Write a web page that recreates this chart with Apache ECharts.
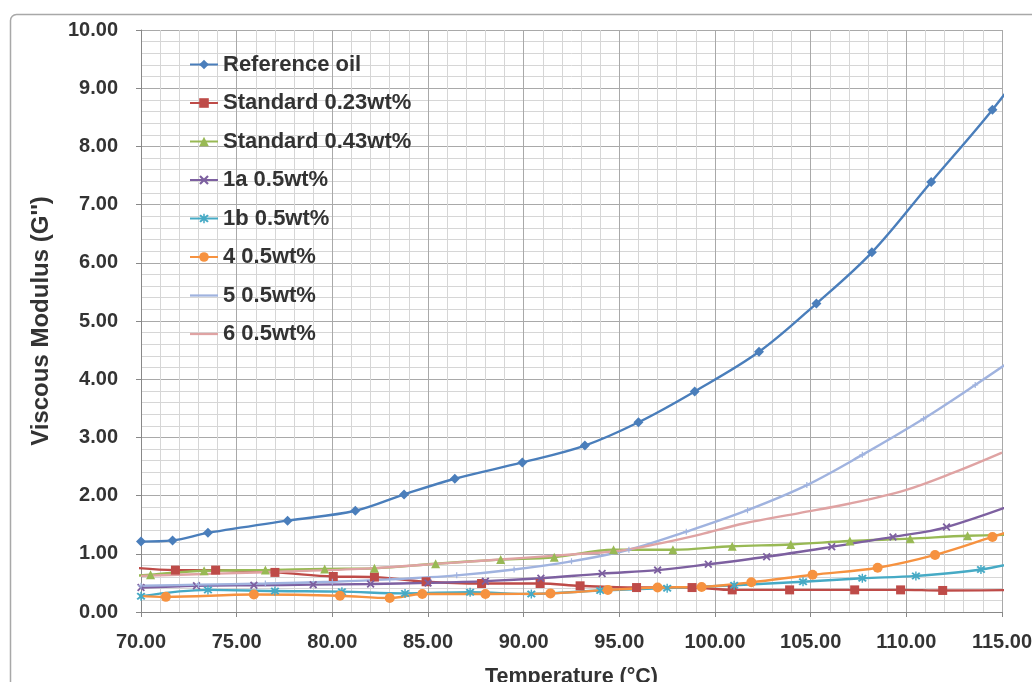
<!DOCTYPE html>
<html>
<head>
<meta charset="utf-8">
<script src="https://cdn.jsdelivr.net/npm/echarts@6/dist/echarts.min.js"></script>
<style>
html,body{margin:0;padding:0;background:#fff;}
#c{width:1032px;height:682px;}
</style>
</head>
<body>
<div id="c"></div>
<script>
// ---- data ----
const seriesNames = ["Reference oil","Standard 0.23wt%","Standard 0.43wt%","1a 0.5wt%","1b 0.5wt%","4 0.5wt%","5 0.5wt%","6 0.5wt%"];

const refX = [70, 71.65, 73.5, 77.66, 81.2, 83.75, 86.4, 89.93, 93.2, 96.0, 98.94, 102.3, 105.3, 108.2, 111.3, 114.5, 117.6];
const refY = [1.21, 1.23, 1.36, 1.57, 1.74, 2.02, 2.29, 2.57, 2.86, 3.26, 3.79, 4.47, 5.30, 6.18, 7.39, 8.63, 9.98];

const std023X = [68.8, 71.8, 73.9, 77.0, 80.05, 82.2, 84.9, 87.8, 90.86, 92.95, 95.9, 98.8, 100.9, 103.9, 107.3, 109.7, 111.9, 117.0];
const std023Y = [0.79, 0.72, 0.72, 0.68, 0.61, 0.60, 0.52, 0.49, 0.49, 0.45, 0.42, 0.42, 0.38, 0.38, 0.38, 0.38, 0.37, 0.38];

const std043X = [67.8, 70.5, 73.3, 76.5, 79.6, 82.2, 85.4, 88.8, 91.6, 94.7, 97.8, 100.9, 103.96, 107.05, 110.2, 113.2, 116.3];
const std043Y = [0.58, 0.64, 0.71, 0.72, 0.74, 0.75, 0.83, 0.90, 0.94, 1.07, 1.07, 1.13, 1.16, 1.22, 1.26, 1.31, 1.33];

const s1aX = [70, 72.9, 75.9, 79.0, 82.0, 85.0, 88.0, 90.9, 94.1, 97.0, 99.65, 102.7, 106.1, 109.3, 112.1, 117.5];
const s1aY = [0.42, 0.45, 0.46, 0.47, 0.48, 0.50, 0.53, 0.58, 0.66, 0.72, 0.82, 0.95, 1.12, 1.29, 1.46, 2.08];

const s1bX = [70, 73.5, 77.0, 80.5, 83.8, 87.2, 90.4, 94.0, 97.5, 101.0, 104.6, 107.7, 110.5, 113.9, 117.0];
const s1bY = [0.27, 0.38, 0.36, 0.35, 0.32, 0.34, 0.31, 0.37, 0.41, 0.46, 0.52, 0.58, 0.62, 0.73, 0.95];

const s4X = [68.5, 71.3, 75.9, 80.4, 83.0, 84.7, 88.0, 91.4, 94.4, 97.0, 99.3, 101.9, 105.1, 108.5, 111.5, 114.5, 117.0];
const s4Y = [0.31, 0.26, 0.30, 0.28, 0.24, 0.31, 0.31, 0.32, 0.38, 0.42, 0.43, 0.51, 0.64, 0.76, 0.98, 1.29, 1.55];

const s5X = [70, 73.0, 76.5, 80.0, 83.0, 86.5, 89.5, 92.5, 95.5, 98.5, 101.7, 104.8, 107.7, 110.9, 113.6, 116.5];
const s5Y = [0.45, 0.47, 0.49, 0.52, 0.56, 0.63, 0.73, 0.87, 1.07, 1.38, 1.75, 2.18, 2.70, 3.32, 3.90, 4.55];

const s6X = [70, 74, 78, 82, 86, 90, 93, 95, 97, 99.2, 101.5, 104.4, 107, 110, 112.5, 115];
const s6Y = [0.62, 0.66, 0.70, 0.75, 0.84, 0.93, 1.00, 1.05, 1.17, 1.33, 1.52, 1.70, 1.86, 2.10, 2.40, 2.74];

const xTicks = {min: 70, max: 115, interval: 5};
const yTicks = {min: 0, max: 10, interval: 1};

// ---- build ----
function pts(xs, ys){ return xs.map((x,i)=>[x, ys[i]]); }

const X_PATH = 'path://M0,1.6L1.6,0L5,3.4L8.4,0L10,1.6L6.6,5L10,8.4L8.4,10L5,6.6L1.6,10L0,8.4L3.4,5Z';
const STAR_PATH = 'path://M0,1.6L1.6,0L5,3.4L8.4,0L10,1.6L6.6,5L10,8.4L8.4,10L5,6.6L1.6,10L0,8.4L3.4,5Z M4.2,-1L5.8,-1L5.8,11L4.2,11Z';
const PLUS_PATH = 'path://M4,0L6,0L6,4L10,4L10,6L6,6L6,10L4,10L4,6L0,6L0,4L4,4Z';
const LINE_ICON = 'path://M0,0L30,0L30,2.4L0,2.4Z';

const defs = [
  {x: refX, y: refY, color:'#4A7EBB', symbol:'diamond', size:10},
  {x: std023X, y: std023Y, color:'#BE4B48', symbol:'rect', size:9},
  {x: std043X, y: std043Y, color:'#98B954', symbol:'triangle', size:9},
  {x: s1aX, y: s1aY, color:'#7D60A0', symbol:X_PATH, size:8},
  {x: s1bX, y: s1bY, color:'#46AAC5', symbol:STAR_PATH, size:9},
  {x: s4X, y: s4Y, color:'#F69240', symbol:'circle', size:10},
  {x: s5X, y: s5Y, color:'#A0B3DF', symbol:PLUS_PATH, size:6, lineIcon:true},
  {x: s6X, y: s6Y, color:'#DFA3A3', symbol:'none', size:0, lineIcon:true}
];

const FONT = 'Liberation Sans';
const series = defs.map((d,i)=>({
  name: seriesNames[i],
  type:'line',
  data: pts(d.x, d.y),
  smooth: 0.35,
  clip: true,
  symbol: d.symbol,
  symbolSize: d.size,
  showSymbol: d.symbol !== 'none',
  lineStyle:{color:d.color, width:2.4},
  itemStyle:{color:d.color},
  emphasis:{disabled:true},
  animation:false
}));

const legendData = seriesNames.map((n,i)=> defs[i].lineIcon ? {name:n, icon:LINE_ICON, itemStyle:{color:defs[i].color}} : {name:n});

const chart = echarts.init(document.getElementById('c'), null, {renderer:'canvas'});
chart.setOption({
  backgroundColor:'#ffffff',
  animation:false,
  graphic:[{
    type:'rect', left:8, top:12, silent:true,
    shape:{width:1100, height:800, r:6},
    style:{fill:'none', stroke:'#a8a8a8', lineWidth:1.5}
  }],
  grid:{left:141, right:30, top:30, bottom:70, containLabel:false, outerBoundsMode:'none'},
  legend:{
    orient:'vertical', left:189, top:53.5, padding:0,
    itemWidth:28, itemHeight:12, itemGap:16.5,
    textStyle:{fontFamily:FONT, fontSize:22, fontWeight:'bold', color:'#333'},
    data: legendData
  },
  xAxis:{
    type:'value', min:xTicks.min, max:xTicks.max, interval:xTicks.interval,
    name:'Temperature (°C)', nameLocation:'middle', nameGap:54,
    nameTextStyle:{fontFamily:FONT, fontSize:21.5, fontWeight:'bold', color:'#333'},
    axisLine:{show:true, lineStyle:{color:'#888', width:1}},
    axisTick:{show:true, length:5, lineStyle:{color:'#888'}},
    minorTick:{show:false, splitNumber:5},
    axisLabel:{margin:20, fontFamily:FONT, fontSize:20, fontWeight:'bold', color:'#333',
      formatter:v=>v.toFixed(2)},
    splitLine:{show:true, lineStyle:{color:'#a9a9a9', width:1}},
    minorSplitLine:{show:true, lineStyle:{color:'#d6d6d6', width:1}}
  },
  yAxis:{
    type:'value', min:yTicks.min, max:yTicks.max, interval:yTicks.interval,
    name:"Viscous Modulus (G'')", nameLocation:'middle', nameGap:88,
    nameTextStyle:{fontFamily:FONT, fontSize:24, fontWeight:'bold', color:'#333'},
    axisLine:{show:true, lineStyle:{color:'#888', width:1}},
    axisTick:{show:true, length:5, lineStyle:{color:'#888'}},
    minorTick:{show:false, splitNumber:5},
    axisLabel:{margin:23, fontFamily:FONT, fontSize:20, fontWeight:'bold', color:'#333',
      formatter:v=>v.toFixed(2)},
    splitLine:{show:true, lineStyle:{color:'#a9a9a9', width:1}},
    minorSplitLine:{show:true, lineStyle:{color:'#d6d6d6', width:1}}
  },
  series: series
});
</script>
</body>
</html>
